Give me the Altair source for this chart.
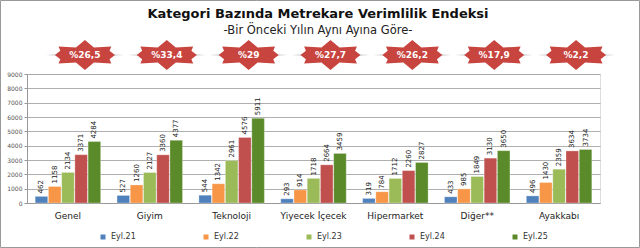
import altair as alt
import pandas as pd

title_text = ["Kategori Bazında Metrekare Verimlilik Endeksi"]
subtitle_text = ["-Bir Önceki Yılın Aynı Ayına Göre-"]
categories = ["Genel", "Giyim", "Teknoloji", "Yiyecek İçecek", "Hipermarket", "Diğer**", "Ayakkabı"]
series = ["Eyl.21", "Eyl.22", "Eyl.23", "Eyl.24", "Eyl.25"]
eyl21 = [462, 527, 544, 293, 319, 433, 496]
eyl22 = [1158, 1260, 1342, 914, 784, 985, 1430]
eyl23 = [2134, 2127, 2961, 1718, 1712, 1849, 2359]
eyl24 = [3371, 3360, 4576, 2664, 2260, 3130, 3634]
eyl25 = [4284, 4377, 5911, 3459, 2827, 3650, 3734]
badges = ["%26,5", "%33,4", "%29", "%27,7", "%26,2", "%17,9", "%2,2"]
y_ticks = [0, 1000, 2000, 3000, 4000, 5000, 6000, 7000, 8000, 9000]
colors = ["#4f81bd", "#f79646", "#9bbb59", "#c0504d", "#5b8a2a"]

rows = []
for s, vals in zip(series, [eyl21, eyl22, eyl23, eyl24, eyl25]):
    for c, v in zip(categories, vals):
        rows.append({"cat": c, "series": s, "value": v})
df = pd.DataFrame(rows)
bdf = pd.DataFrame({"cat": categories, "badge": badges})

FONT = "DejaVu Sans"
W, H = 573, 129

xenc = alt.X("cat:N", sort=categories, title=None,
             scale=alt.Scale(paddingInner=0.2, paddingOuter=0.1),
             axis=alt.Axis(labelAngle=0, labelFontSize=9, labelColor="#222", labelFont=FONT,
                           ticks=False, domainColor="#999", labelPadding=8))
xoff = alt.XOffset("series:N", sort=series, scale=alt.Scale(paddingInner=0.05))
yenc = alt.Y("value:Q", title=None,
             scale=alt.Scale(domain=[0, 9000], nice=False),
             axis=alt.Axis(values=y_ticks, format="d", labelOverlap=False, tickCount=10,
                           labelFontSize=6, labelColor="#555",
                           labelFont=FONT, gridColor="#9a9a9a", gridWidth=0.8, domainColor="#999",
                           tickColor="#999", tickSize=3, labelPadding=2))

bars = alt.Chart(df).mark_bar(stroke="#ffffff", strokeWidth=0.3).encode(
    x=xenc,
    xOffset=xoff,
    y=yenc,
    color=alt.Color("series:N", sort=series, scale=alt.Scale(domain=series, range=colors),
                    legend=alt.Legend(title=None, orient="none", direction="horizontal",
                                      legendX=72, legendY=159, columnPadding=66,
                                      symbolType="square", symbolSize=25, symbolStrokeWidth=0,
                                      labelFontSize=8, labelColor="#333", labelFont=FONT)),
)

labels = alt.Chart(df).mark_text(angle=270, align="left", baseline="middle", dx=3,
                                 fontSize=7, color="#222", font=FONT).encode(
    x=xenc,
    xOffset=xoff,
    y=yenc,
    text="value:Q",
)

shadow = alt.Chart(bdf).mark_point(
    shape="M -1.3 0 L 0 -0.07 L 1.3 0 L 0 0.07 Z", filled=True, color="#bbbbbb",
    opacity=1, size=3600, xOffset=17).encode(
    x=xenc, y=alt.value(-19))

badge_shape = alt.Chart(bdf).mark_point(
    shape="M -1 0 L -0.82 -0.14 L -0.88 -0.28 L -0.3 -0.25 L 0 -0.5 L 0.3 -0.25 L 0.88 -0.28 "
          "L 0.82 -0.14 L 1 0 L 0.82 0.14 L 0.88 0.28 L 0.3 0.25 L 0 0.5 L -0.3 0.25 "
          "L -0.88 0.28 L -0.82 0.14 Z",
    filled=True, color="#c8443f", opacity=1, size=3600, xOffset=17).encode(
    x=xenc, y=alt.value(-19))

badge_text = alt.Chart(bdf).mark_text(fontSize=9, fontWeight="bold", color="white", font=FONT,
                                      xOffset=17).encode(
    x=xenc, y=alt.value(-19), text="badge:N")

title = alt.Chart(pd.DataFrame({"t": title_text})).mark_text(
    fontSize=13, fontWeight="bold", color="#111", font=FONT, baseline="middle").encode(
    x=alt.value(291), y=alt.value(-60), text="t:N")

subtitle = alt.Chart(pd.DataFrame({"t": subtitle_text})).mark_text(
    fontSize=11.5, color="#222", font=FONT, baseline="middle").encode(
    x=alt.value(291), y=alt.value(-43), text="t:N")

frame = alt.Chart(pd.DataFrame({"a": [0]})).mark_rect(fill=None, stroke="#999999", strokeWidth=1).encode(
    x=alt.value(-26.5), x2=alt.value(612.5), y=alt.value(-73.5), y2=alt.value(173.5))

chart = alt.layer(frame, bars, labels, shadow, badge_shape, badge_text, title, subtitle).properties(
    width=W, height=H,
    autosize=alt.AutoSizeParams(type="none"),
    padding={"left": 27, "top": 74, "right": 40, "bottom": 45},
).configure_view(stroke=None).configure(background="white")

chart.save("out.html", embed_options={"renderer": "svg", "actions": False})
